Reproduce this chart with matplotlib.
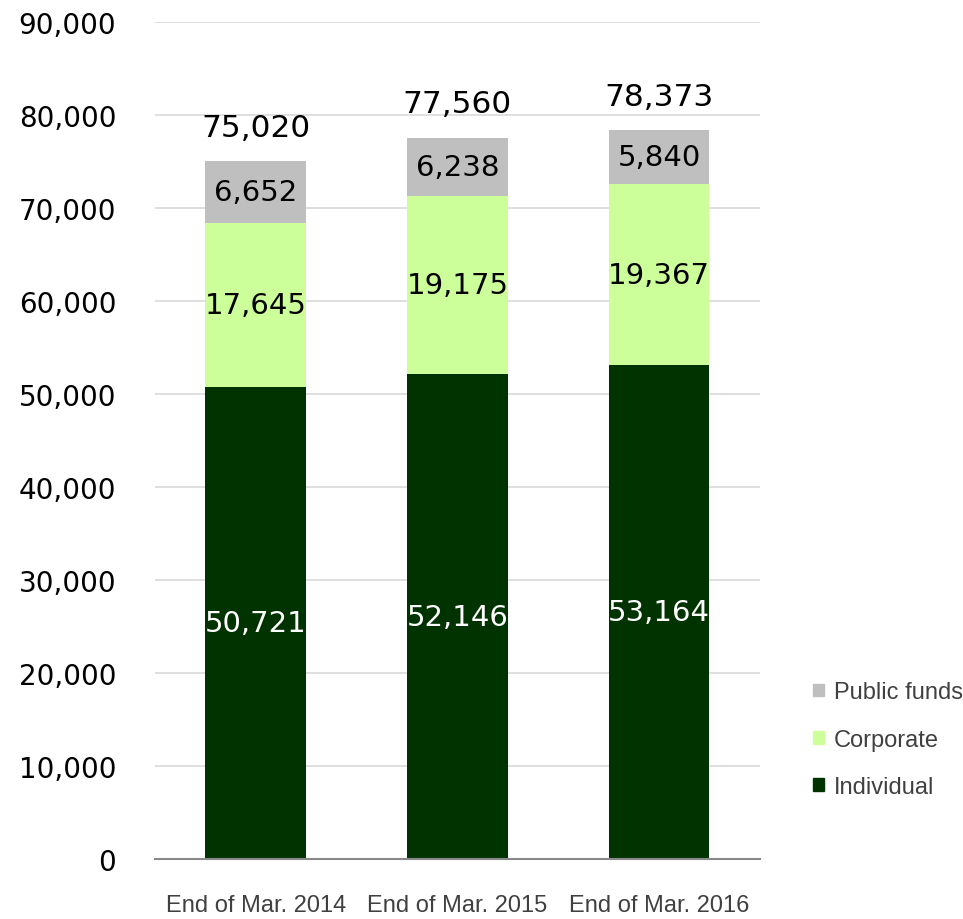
import matplotlib
matplotlib.use("Agg")
import matplotlib.pyplot as plt
from matplotlib.patches import Patch

# balance by investor type (units as reported)
periods = ["End of Mar. 2014", "End of Mar. 2015", "End of Mar. 2016"]
individual = [50721, 52146, 53164]
corporate = [17645, 19175, 19367]
public_funds = [6652, 6238, 5840]
totals = [75020, 77560, 78373]

c_ind = "#003300"
c_corp = "#CCFF99"
c_pub = "#BFBFBF"

fig = plt.figure(figsize=(9.63, 9.20), dpi=100)
ax = fig.add_axes([0.161, 0.0652, 0.628, 0.9098])

x = range(len(periods))
w = 0.5
b1 = ax.bar(x, individual, w, color=c_ind, zorder=3)
b2 = ax.bar(x, corporate, w, bottom=individual, color=c_corp, zorder=3)
bottom3 = [a + b for a, b in zip(individual, corporate)]
b3 = ax.bar(x, public_funds, w, bottom=bottom3, color=c_pub, zorder=3)

ax.bar_label(b1, labels=[f"{v:,}" for v in individual], label_type="center",
             color="white", fontsize=21, family="DejaVu Sans")
ax.bar_label(b2, labels=[f"{v:,}" for v in corporate], label_type="center",
             color="black", fontsize=21, family="DejaVu Sans")
ax.bar_label(b3, labels=[f"{v:,}" for v in public_funds], label_type="center",
             color="black", fontsize=21, family="DejaVu Sans")
for i, t in enumerate(totals):
    ax.annotate(f"{t:,}", (i, t), xytext=(0, 14), textcoords="offset points",
                ha="center", va="bottom", fontsize=22.5, family="DejaVu Sans")

ax.set_ylim(0, 90000)
ax.set_xlim(-0.5, 2.5)
ax.set_yticks(range(0, 90001, 10000))
ax.set_yticklabels([f"{v:,}" for v in range(0, 90001, 10000)],
                   fontsize=20, family="DejaVu Sans")
ax.set_xticks(list(x))
ax.set_xticklabels(periods, fontsize=17, color="#404040",
                   family=["Liberation Sans Narrow", "Liberation Sans"])
ax.tick_params(axis="y", length=0, pad=28)
ax.tick_params(axis="x", length=0, pad=25)

ax.grid(axis="y", color="#D9D9D9", linewidth=1.2, zorder=0)
for s in ["left", "right", "top"]:
    ax.spines[s].set_visible(False)
ax.spines["bottom"].set_color("#898989")
ax.spines["bottom"].set_linewidth(1.5)
ax.spines["bottom"].set_zorder(4)

handles = [Patch(color=c_pub), Patch(color=c_corp), Patch(color=c_ind)]
fig.legend(handles, ["Public funds", "Corporate", "Individual"],
           loc="center left", bbox_to_anchor=(0.832, 0.195), frameon=False,
           borderpad=0, handlelength=0.45, handleheight=0.45, handletextpad=0.42,
           labelspacing=1.07, prop={"family": "Liberation Sans", "size": 17},
           labelcolor="#404040")

fig.savefig("out.png", dpi=100)
